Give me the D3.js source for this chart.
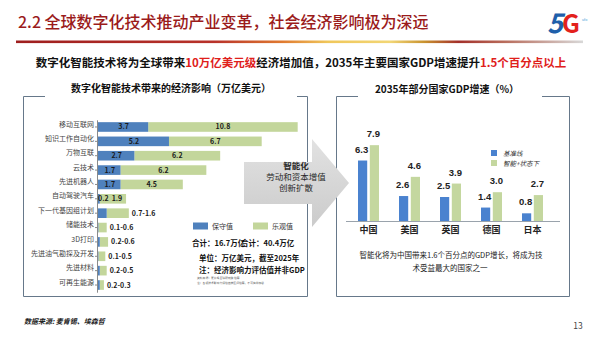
<!DOCTYPE html>
<html><head><meta charset="utf-8">
<script src="https://cdn.jsdelivr.net/npm/d3@7"></script>
<style>
html,body{margin:0;padding:0;background:#fff;}
svg{display:block;}
text{font-family:"Noto Sans CJK SC","Noto Sans",sans-serif;}
.num{font-family:"Liberation Sans",Arial,sans-serif;}
</style></head><body>
<svg id="chart" width="600" height="338"></svg>
<script>
// ---------- data ----------
const techCategories = ["移动互联网","知识工作自动化","万物互联","云技术","先进机器人","自动驾驶汽车","下一代基因组计划","储能技术","3D打印","先进油气勘探及开发","先进材料","可再生能源"];
const conservativeValues = [3.7,5.2,2.7,1.7,1.7,0.2,0.7,0.1,0.2,0.1,0.2,0.2];
const optimisticValues = [10.8,6.7,6.2,6.2,4.5,1.9,1.6,0.6,0.6,0.5,0.5,0.3];
const techSeries = ["保守值","乐观值"];
const techTotals = ["合计：16.7万亿","合计：40.4万亿"];
const countries = ["中国","美国","英国","德国","日本"];
const baselineGrowth = [6.3,2.6,2.5,1.4,0.8];
const smartGrowth = [7.9,4.6,3.9,3.0,2.7];
const gdpSeries = ["基准线","智能+状态下"];

const svg = d3.select("#chart");
const defs = svg.append("defs");

// ---------- header ----------
svg.append("text").attr("x",18).attr("y",28).attr("fill","#9B1B1B")
  .attr("font-size",16).attr("font-weight",500)
  .text("2.2 全球数字化技术推动产业变革，社会经济影响极为深远");

const lg = defs.append("linearGradient").attr("id","hl").attr("x1","0").attr("x2","1");
[["0%","#9E1E1E"],["35%","#B8322A"],["47%","#E07A30"],["55%","#F0C75A"],["66%","#F2D675"],["72%","#C9932F"],["78%","#A3302A"],["86%","#B86B5A"],["100%","#D8D8D8"]]
  .forEach(s=>lg.append("stop").attr("offset",s[0]).attr("stop-color",s[1]));
svg.append("rect").attr("x",16).attr("y",40.5).attr("width",567).attr("height",2.6).attr("fill","url(#hl)");

// 5G logo
svg.append("text").attr("x",547).attr("y",33).attr("font-size",27).attr("font-weight","bold")
  .attr("font-family","Liberation Sans, Arial").attr("fill","#1F5FAA").attr("font-style","italic").text("5");
svg.append("text").attr("x",562).attr("y",33).attr("font-size",25).attr("font-weight","bold")
  .attr("font-family","Liberation Sans, Arial").attr("fill","#E3211C").text("G");
svg.append("text").attr("x",582).attr("y",21).attr("font-size",3.5).attr("fill","#3AA0D8").text("ufo");

// subtitle
const sub = svg.append("text").attr("x",301).attr("y",67).attr("text-anchor","middle")
  .attr("font-size",11.5).attr("font-weight","bold").attr("fill","#111");
sub.append("tspan").text("数字化智能技术将为全球带来");
sub.append("tspan").attr("fill","#E0201B").text("10万亿美元级");
sub.append("tspan").text("经济增加值，2035年主要国家GDP增速提升");
sub.append("tspan").attr("fill","#E0201B").text("1.5个百分点以上");

// ---------- boxes ----------
const boxC = "#66788A";
function box(x0,x1,y0,y1,c0,c1){
  const g = svg.append("g").attr("fill","none").attr("stroke",boxC).attr("stroke-width",1);
  g.append("path").attr("d",`M${c0},${y0}H${x0}V${y1}H${x1}V${y0}H${c1}`);
}
box(23.5,307.5,96.5,296.5,45,297);
box(336.5,569.5,96.5,296.5,358,542);

// ---------- left chart ----------
svg.append("text").attr("x",171).attr("y",92).attr("text-anchor","middle")
  .attr("font-size",10).attr("font-weight","bold").attr("fill","#111")
  .text("数字化智能技术带来的经济影响（万亿美元）");

const xL = d3.scaleLinear().domain([0,15]).range([97,304.6]);
const yL = d3.scaleBand().domain(techCategories).range([119.8,292.2]).paddingInner(0.33).paddingOuter(0.165);
const techRows = techCategories.map((c,i)=>({c,a:conservativeValues[i],b:optimisticValues[i],i}));

const gL = svg.append("g");
gL.selectAll("rect.b").data(techRows).join("rect").attr("class","b")
  .attr("x",d=>xL(d.a)).attr("y",d=>yL(d.c)).attr("width",d=>xL(d.a+d.b)-xL(d.a)).attr("height",yL.bandwidth())
  .attr("fill","#C3D69B");
gL.selectAll("rect.a").data(techRows).join("rect").attr("class","a")
  .attr("x",xL(0)).attr("y",d=>yL(d.c)).attr("width",d=>xL(d.a)-xL(0)).attr("height",yL.bandwidth())
  .attr("fill","#4F81BD");

const axL = svg.append("g").attr("transform",`translate(${xL(0)},0)`)
  .call(d3.axisLeft(yL).tickSize(2).tickSizeOuter(0).tickPadding(1));
axL.select(".domain").attr("stroke","#8A8A8A");
axL.selectAll(".tick line").attr("stroke","#8A8A8A");
axL.selectAll(".tick text").attr("font-size",7).attr("fill","#444")
  .attr("font-family","Noto Sans CJK SC").attr("dy","-0.05em");

const lblL = svg.append("g").attr("class","num").attr("font-size",7).attr("font-weight","bold").attr("fill","#1a1a1a");
techRows.forEach(d=>{
  const yc = yL(d.c)+yL.bandwidth()/2+2.5;
  if (d.a>=1){
    lblL.append("text").attr("x",(xL(0)+xL(d.a))/2+1).attr("y",yc).attr("text-anchor","middle").text(d3.format(".1f")(d.a));
    lblL.append("text").attr("x",(xL(d.a)+xL(d.a+d.b))/2).attr("y",yc).attr("text-anchor","middle").text(d3.format(".1f")(d.b));
  } else if (d.b>=1.8){
    lblL.append("text").attr("x",xL(0)+1).attr("y",yc).attr("xml:space","preserve").text(d3.format(".1f")(d.a)+"  "+d3.format(".1f")(d.b));
  } else {
    lblL.append("text").attr("x",xL(d.a+d.b)+3).attr("y",yc).text(d3.format(".1f")(d.a)+"-"+d3.format(".1f")(d.b));
  }
});

// left legend
const legL = svg.append("g").attr("font-size",7).attr("fill","#333");
[["#4F81BD",193],["#C3D69B",253]].forEach((s,i)=>{
  legL.append("rect").attr("x",s[1]).attr("y",222.5).attr("width",15).attr("height",7).attr("fill",s[0]);
  legL.append("text").attr("x",s[1]+19).attr("y",229).text(techSeries[i]);
});
const tot = svg.append("g").attr("font-size",7.5).attr("font-weight","bold").attr("fill","#111");
tot.append("text").attr("x",192).attr("y",245.5).text(techTotals[0]);
tot.append("text").attr("x",241).attr("y",245.5).text(techTotals[1]);
tot.append("text").attr("x",199).attr("y",261).text("单位：万亿美元，截至2025年");
tot.append("text").attr("x",199).attr("y",273).text("注：经济影响力评估值并非GDP");
svg.append("text").attr("x",197).attr("y",279).attr("font-size",2.8).attr("fill","#555").text("资料来源：麦肯锡全球研究院 估算");
svg.append("text").attr("x",197).attr("y",283.5).attr("font-size",2.8).attr("fill","#555").text("注：各项技术影响力评估值按区间估算，不可简单加总");

// ---------- right chart ----------
svg.append("text").attr("x",447).attr("y",93).attr("text-anchor","middle")
  .attr("font-size",10).attr("font-weight","bold").attr("fill","#111")
  .text("2035年部分国家GDP增速（%）");

const xR = d3.scaleBand().domain(countries).range([348,553]).paddingInner(0.488).paddingOuter(0.244);
const xS = d3.scaleBand().domain(gdpSeries).range([0,xR.bandwidth()]).paddingInner(0.22);
const yR = d3.scaleLinear().domain([0,8]).range([221,144.2]);
const gdpRows = countries.map((c,i)=>[{c,s:gdpSeries[0],v:baselineGrowth[i]},{c,s:gdpSeries[1],v:smartGrowth[i]}]).flat();
const colR = d3.scaleOrdinal().domain(gdpSeries).range(["#4A82CF","#C4D79F"]);

const gR = svg.append("g");
gR.selectAll("rect").data(gdpRows).join("rect")
  .attr("x",d=>xR(d.c)+xS(d.s)).attr("y",d=>yR(d.v)).attr("width",xS.bandwidth()).attr("height",d=>yR(0)-yR(d.v))
  .attr("fill",d=>colR(d.s));
gR.selectAll("text").data(gdpRows).join("text").attr("class","num")
  .attr("x",d=>xR(d.c)+xS(d.s)+xS.bandwidth()/2-1).attr("y",d=>yR(d.v)-8)
  .attr("text-anchor","middle").attr("font-size",9.5).attr("font-weight","bold").attr("fill","#222")
  .text(d=>d3.format(".1f")(d.v));

svg.append("line").attr("x1",346).attr("x2",560).attr("y1",221.5).attr("y2",221.5).attr("stroke","#9AA3AC");
const axR = svg.append("g").attr("transform","translate(0,221)").call(d3.axisBottom(xR).tickSize(0).tickPadding(6));
axR.select(".domain").remove();
axR.selectAll(".tick text").attr("font-size",9).attr("font-weight","bold").attr("fill","#222").attr("font-family","Noto Sans CJK SC");

const legR = svg.append("g").attr("font-size",6.5).attr("font-style","italic").attr("fill","#333");
gdpSeries.forEach((s,i)=>{
  legR.append("rect").attr("x",491).attr("y",150+i*10).attr("width",6).attr("height",6).attr("fill",colR(s));
  legR.append("text").attr("x",503).attr("y",155.5+i*10).text(s);
});

const note = svg.append("g").attr("font-size",7.5).attr("fill","#222").attr("text-anchor","middle");
note.append("text").attr("x",451).attr("y",258).text("智能化将为中国带来1.6个百分点的GDP增长，将成为技");
note.append("text").attr("x",450).attr("y",271).text("术受益最大的国家之一");

// ---------- arrow ----------
const ag = defs.append("linearGradient").attr("id","ag").attr("x1","0").attr("x2","0").attr("y1","0").attr("y2","1");
ag.append("stop").attr("offset","0%").attr("stop-color","#E2E2E2");
ag.append("stop").attr("offset","100%").attr("stop-color","#CBCBCB");
svg.append("path").attr("d","M244,162 H312 V139 L349,183 L312,227 V204 H244 Z").attr("fill","url(#ag)");
const at = svg.append("g").attr("text-anchor","middle").attr("fill","#2a2a2a").attr("font-size",8.5);
at.append("text").attr("x",296).attr("y",169).attr("font-weight","bold").text("智能化");
at.append("text").attr("x",296).attr("y",180).text("劳动和资本增值");
at.append("text").attr("x",296).attr("y",191).text("创新扩散");

// ---------- footer ----------
svg.append("text").attr("x",24).attr("y",324).attr("font-size",7).attr("font-style","italic").attr("font-weight","bold")
  .attr("fill","#222").text("数据来源: 麦肯锡、埃森哲");
svg.append("text").attr("x",578).attr("y",329).attr("font-size",8.5).attr("text-anchor","middle")
  .attr("fill","#444").attr("font-family","Liberation Serif, serif").text("13");
</script>
</body></html>
